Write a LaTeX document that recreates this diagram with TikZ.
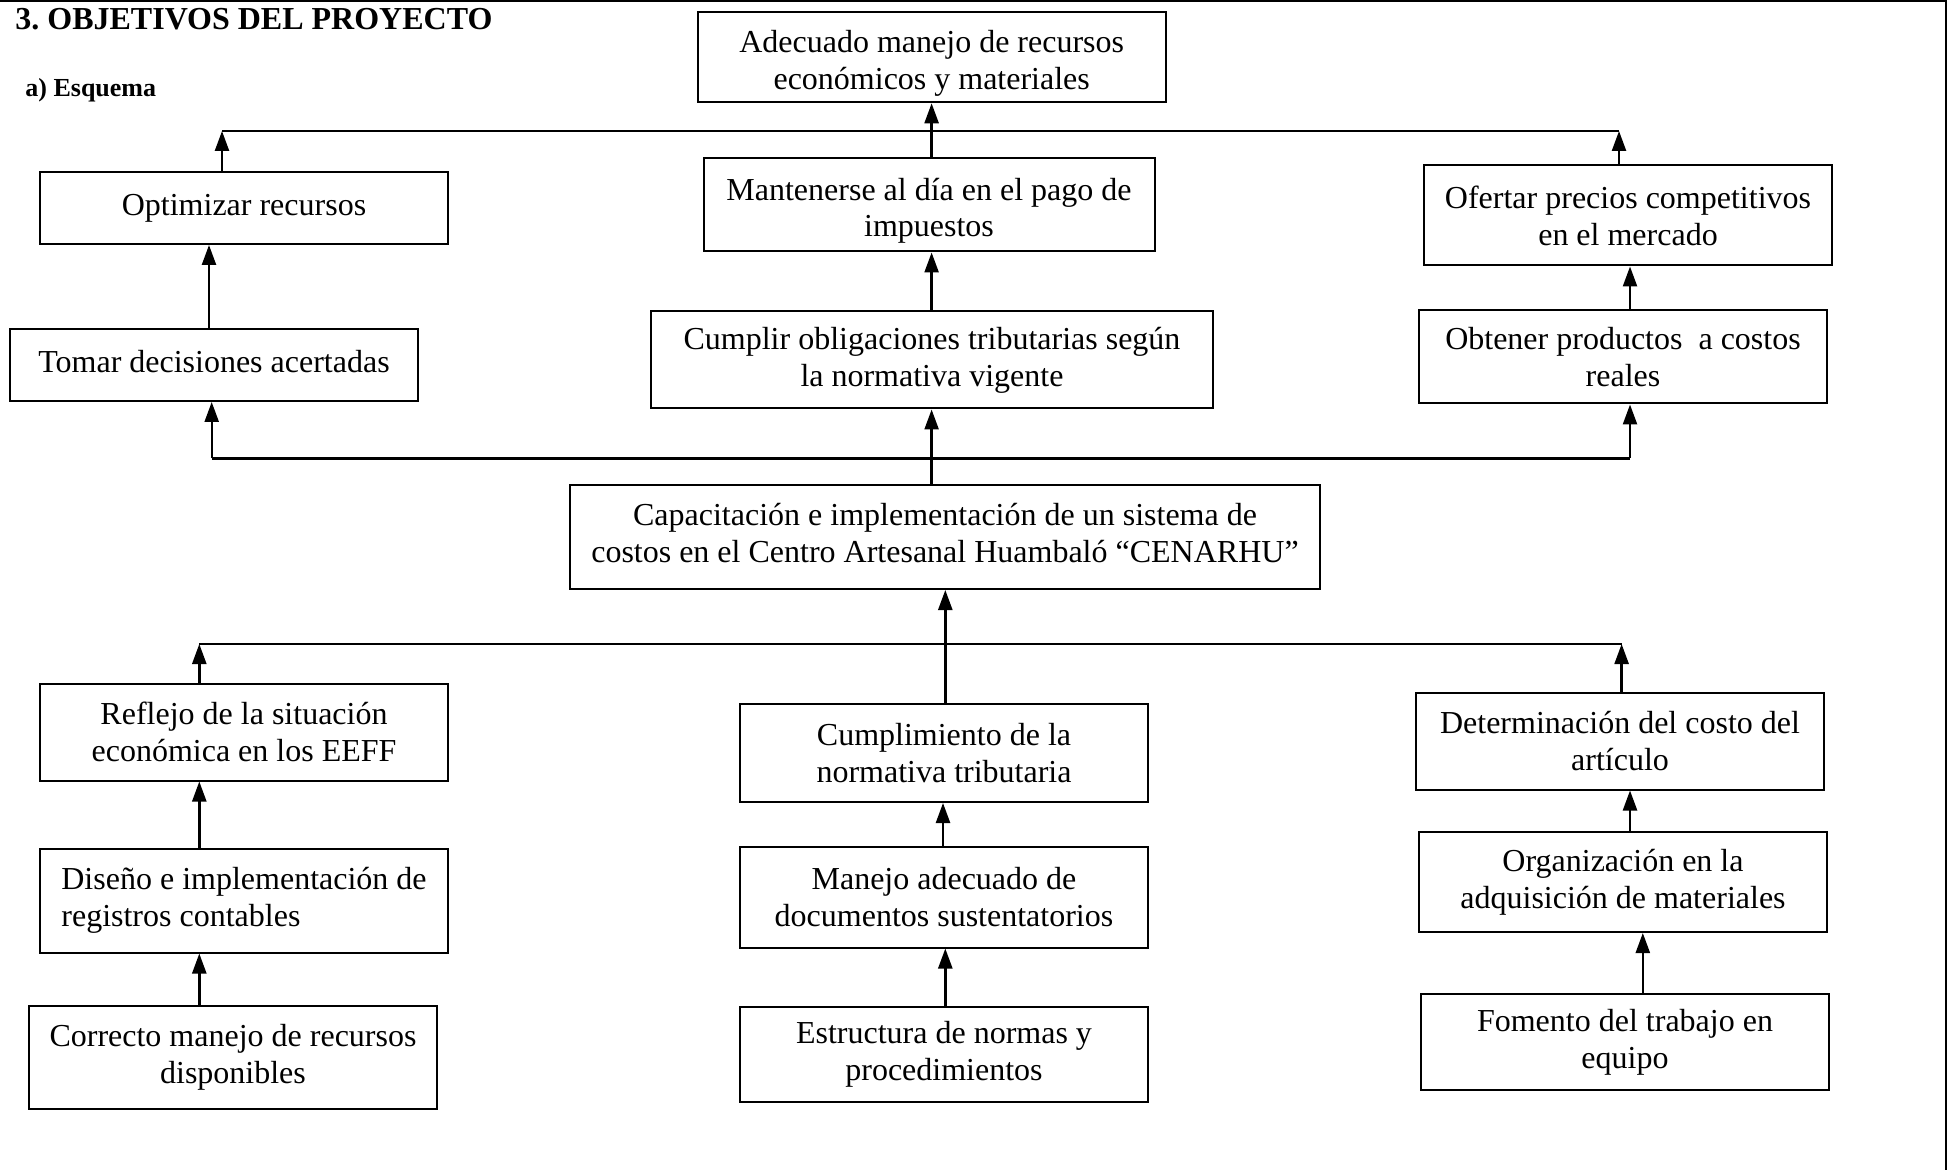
\documentclass[tikz,border=0pt]{standalone}
\usepackage{fontspec}
\setmainfont{Liberation Serif}
\usetikzlibrary{arrows.meta}
\newcommand{\pushdown}{\rule{0pt}{17pt}}
\newcommand{\pushup}{\rule[-4pt]{0pt}{0pt}}
\frenchspacing
\begin{document}
\begin{tikzpicture}[x=0.5pt,y=-0.5pt,
  box/.style={draw, line width=1pt, rectangle, align=center, inner sep=2pt,
    font=\fontsize{16pt}{18.4pt}\selectfont},
  conn/.style={line width=1.2pt},
  arr/.style={line width=1.2pt, -{Triangle[length=10pt,width=7pt]}}]
\useasboundingbox (0,0) rectangle (1953,1170);
% frame
\draw[line width=1pt] (0,1.5) -- (1946,1.5) -- (1946,1170);
% headings
\node[anchor=base west, inner sep=0, font=\bfseries\fontsize{16pt}{19pt}\selectfont] (title) at (15,30) {3.\ OBJETIVOS DEL PROYECTO};
\node[anchor=base west, inner sep=0, font=\bfseries\fontsize{13pt}{15pt}\selectfont] (sub) at (25,97) {a) Esquema};
% boxes
\node[box, minimum width=234pt, minimum height=45pt] (A) at (931.7,57.3) {\pushdown Adecuado manejo de recursos\\económicos y materiales};
\node[box, minimum width=204pt, minimum height=36pt] (B) at (244,208) {Optimizar recursos};
\node[box, minimum width=225.5pt, minimum height=46.5pt] (C) at (929,205) {\pushdown Mantenerse al día en el pago de\\impuestos};
\node[box, minimum width=204pt, minimum height=50pt] (D) at (1628,215.5) {Ofertar precios competitivos\\en el mercado};
\node[box, minimum width=204pt, minimum height=36pt] (E) at (214,365) {Tomar decisiones acertadas\pushup};
\node[box, minimum width=281pt, minimum height=48.5pt] (F) at (932,360) {Cumplir obligaciones tributarias según\\la normativa vigente};
\node[box, minimum width=204pt, minimum height=46.5pt] (G) at (1623,357) {Obtener productos\ \ a costos\\reales};
\node[box, minimum width=375pt, minimum height=52pt] (H) at (945,537) {Capacitación e implementación de un sistema de\\costos en el Centro Artesanal Huambaló “CENARHU”\pushup};
\node[box, minimum width=204pt, minimum height=48.5pt] (I) at (244,732) {Reflejo de la situación\\económica en los EEFF};
\node[box, minimum width=204pt, minimum height=49pt] (J) at (944,753) {Cumplimiento de la\\normativa tributaria};
\node[box, minimum width=204pt, minimum height=48.5pt] (K) at (1620,741) {Determinación del costo del\\artículo};
\node[box, align=left, minimum width=204pt, minimum height=52pt] (L) at (244,900.5) {Diseño e implementación de\\registros contables};
\node[box, minimum width=204pt, minimum height=50.5pt] (M) at (944,897) {Manejo adecuado de\\documentos sustentatorios};
\node[box, minimum width=204pt, minimum height=50pt] (N) at (1623,882) {Organización en la\\adquisición de materiales};
\node[box, minimum width=204pt, minimum height=51.5pt] (O) at (233,1057) {Correcto manejo de recursos\\disponibles};
\node[box, minimum width=204pt, minimum height=47.5pt] (P) at (944,1054) {Estructura de normas y\\procedimientos};
\node[box, minimum width=204pt, minimum height=48pt] (Q) at (1625,1042) {Fomento del trabajo en\\equipo};
% bus and column coordinates
\coordinate (t1) at (222,131);
\coordinate (t2) at (1619,131);
\coordinate (m1) at (211.7,458.4);
\coordinate (m2) at (1630,458.4);
\coordinate (l1) at (199.3,644);
\coordinate (l2) at (1621.6,644);
\coordinate (vEB) at (209,0);
\coordinate (vC) at (931.6,0);
\coordinate (vGD) at (1630,0);
\coordinate (vJ) at (945.3,0);
\coordinate (vMJ) at (943,0);
\coordinate (vQ) at (1642.8,0);
% top level
\draw[conn] (t1) -- (t2);
\draw[arr] (B.north -| t1) -- (t1);
\draw[arr] (D.north -| t2) -- (t2);
\draw[arr] (C.north -| vC) -- (A.south -| vC);
% second level
\draw[arr] (E.north -| vEB) -- (B.south -| vEB);
\draw[arr] (F.north -| vC) -- (C.south -| vC);
\draw[arr] (G.north -| vGD) -- (D.south -| vGD);
% middle bus
\draw[conn] (m1) -- (m2);
\draw[arr] (m1) -- (E.south -| m1);
\draw[arr] (m2) -- (G.south -| m2);
\draw[arr] (H.north -| vC) -- (F.south -| vC);
% lower bus
\draw[conn] (l1) -- (l2);
\draw[arr] (I.north -| l1) -- (l1);
\draw[arr] (K.north -| l2) -- (l2);
\draw[arr] (J.north -| vJ) -- (H.south -| vJ);
% lower chains
\draw[arr] (L.north -| l1) -- (I.south -| l1);
\draw[arr] (O.north -| l1) -- (L.south -| l1);
\draw[arr] (M.north -| vMJ) -- (J.south -| vMJ);
\draw[arr] (P.north -| vJ) -- (M.south -| vJ);
\draw[arr] (N.north -| vGD) -- (K.south -| vGD);
\draw[arr] (Q.north -| vQ) -- (N.south -| vQ);
\end{tikzpicture}
\end{document}
